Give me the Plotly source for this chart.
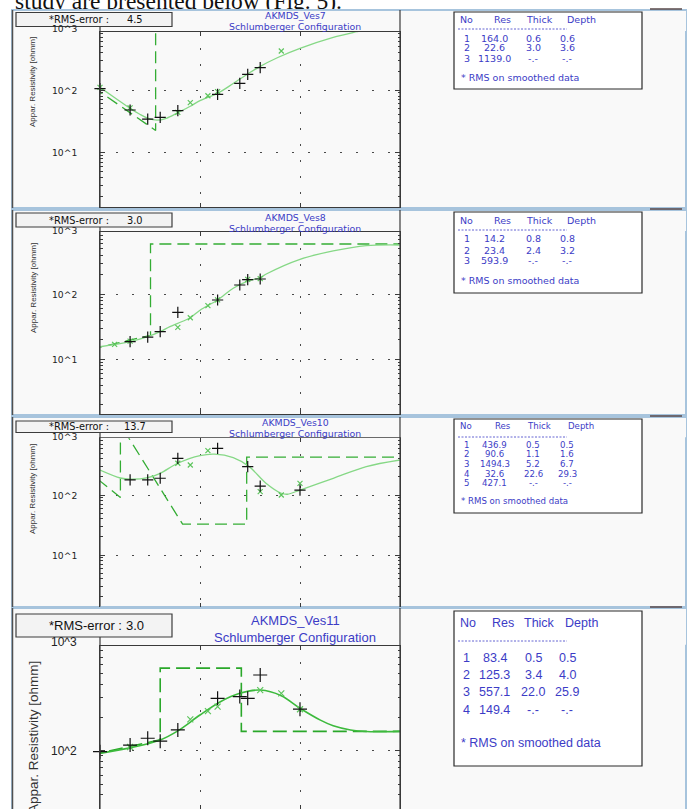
import plotly.graph_objects as go

# ---------------- sounding data: AB/2 [m] vs apparent resistivity [ohm.m] ----------------
# VES 7
ves7_field_ab2 = [1, 2, 3, 4, 6, 15, 25, 30, 40]
ves7_field_rho = [105, 48, 34.4, 36.7, 46.8, 85.4, 128, 178, 227]
ves7_smooth_ab2 = [1, 2, 6, 8, 12, 15, 65]
ves7_smooth_rho = [110, 52, 44, 62.8, 81, 94, 419]
ves7_calc_ab2 = [1, 1.5, 2, 2.5, 3, 3.7, 4.6, 6, 8, 10, 15, 21.5, 30, 38, 60, 100, 215, 370, 600]
ves7_calc_rho = [110, 70, 51, 41, 35.5, 33, 35.4, 43.5, 55, 67.6, 88.5, 127, 180, 228, 330, 462, 692, 850, 1000]
ves7_res = [164.0, 22.6, 1139.0]
ves7_thick = [0.6, 3.0]
ves7_depth = [0.6, 3.6]
ves7_rms = 4.5

# VES 8
ves8_field_ab2 = [2, 3, 4, 6, 15, 25, 30, 40]
ves8_field_rho = [18.7, 22.0, 26.6, 52.9, 81.7, 139, 168, 172]
ves8_smooth_ab2 = [1.4, 2, 6, 8, 12, 15, 30, 40]
ves8_smooth_rho = [17.0, 19.0, 31, 43.6, 66.9, 82, 170, 174]
ves8_calc_ab2 = [1, 2, 3, 4, 5, 6, 8, 10, 15, 21.5, 30, 40, 46, 100, 215, 460, 1000]
ves8_calc_rho = [15.6, 18.7, 22.3, 26.6, 31.8, 35.8, 43.6, 57, 81.7, 124, 160, 180, 205, 345, 464, 560, 573]
ves8_res = [14.2, 23.4, 593.9]
ves8_thick = [0.8, 2.4]
ves8_depth = [0.8, 3.2]
ves8_rms = 3.0

# VES 10
ves10_field_ab2 = [2, 3, 4, 6, 15, 30, 40, 100]
ves10_field_rho = [178, 178, 190, 408, 600, 297, 141, 121]
ves10_smooth_ab2 = [6, 8, 12, 40, 65, 100]
ves10_smooth_rho = [338, 316, 548, 114, 100, 156]
ves10_calc_ab2 = [1, 1.6, 2, 3, 4, 6, 10, 14, 21.5, 31, 46, 65, 75, 100, 215, 460, 1000]
ves10_calc_rho = [261, 192, 183, 194, 230, 338, 453, 480, 419, 297, 156, 107, 103, 121, 190, 297, 383]
ves10_res = [436.9, 90.6, 1494.3, 32.6, 427.1]
ves10_thick = [0.5, 1.1, 5.2, 22.6]
ves10_depth = [0.5, 1.6, 6.7, 29.3]
ves10_rms = 13.7

# VES 11
ves11_field_ab2 = [1, 2, 3, 4, 6, 15, 25, 30, 40, 100]
ves11_field_rho = [98, 112.5, 129.5, 122, 154, 297, 308, 297, 483, 237]
ves11_smooth_ab2 = [2, 8, 12, 15, 40, 65, 100]
ves11_smooth_rho = [108, 192, 228, 250, 353, 330, 237]
ves11_calc_ab2 = [1, 2, 4, 6, 10, 16, 25, 40, 65, 100, 160, 215, 320, 460, 1000]
ves11_calc_rho = [94.6, 106, 125, 151, 210, 277, 330, 353, 314, 242, 189, 168, 154, 149, 149.4]
ves11_res = [83.4, 125.3, 557.1, 149.4]
ves11_thick = [0.5, 3.4, 22.0]
ves11_depth = [0.5, 4.0, 25.9]
ves11_rms = 3.0

# ---------------- page geometry (pixels) ----------------
W, H = 688, 809


def X(p):
    return p / W


def Y(p):
    return 1 - p / H


INK_BLUE = "#3c3cc6"
FRAME_BLUE = "#a7c4dd"
AXIS_GREY = "#3a3a3a"
PANEL_BG = "#f9f9f9"

panels = [
    dict(title="AKMDS_Ves7", rms=ves7_rms,
         field=(ves7_field_ab2, ves7_field_rho), smooth=(ves7_smooth_ab2, ves7_smooth_rho),
         calc=(ves7_calc_ab2, ves7_calc_rho), res=ves7_res, thick=ves7_thick, depth=ves7_depth,
         frame=(10, 208), plot=(32, 207), p100=90.0, dec=62.7, decades=(1, 2, 3),
         rms_box=(12.5, 26.5), titles=(15.5, 26), table=(12, 89), tab_font=9.5,
         head=19, rule=29, rows=(38, 48, 58), note=77, ylab=82, large=False),
    dict(title="AKMDS_Ves8", rms=ves8_rms,
         field=(ves8_field_ab2, ves8_field_rho), smooth=(ves8_smooth_ab2, ves8_smooth_rho),
         calc=(ves8_calc_ab2, ves8_calc_rho), res=ves8_res, thick=ves8_thick, depth=ves8_depth,
         frame=(210, 415), plot=(232, 414), p100=294.3, dec=65.0, decades=(1, 2, 3),
         rms_box=(213, 227), titles=(217.5, 228), table=(212, 293), tab_font=9.5,
         head=220, rule=230, rows=(239, 250, 260), note=280, ylab=288, large=False),
    dict(title="AKMDS_Ves10", rms=ves10_rms,
         field=(ves10_field_ab2, ves10_field_rho), smooth=(ves10_smooth_ab2, ves10_smooth_rho),
         calc=(ves10_calc_ab2, ves10_calc_rho), res=ves10_res, thick=ves10_thick, depth=ves10_depth,
         frame=(417, 607), plot=(438.3, 606.5), p100=495.0, dec=60.0, decades=(1, 2, 3),
         rms_box=(421, 432.5), titles=(422.5, 433), table=(419, 513), tab_font=8.6,
         head=426, rule=437, rows=(445, 454.5, 464, 473.5, 483), note=501, ylab=489, large=False),
    dict(title="AKMDS_Ves11", rms=ves11_rms,
         field=(ves11_field_ab2, ves11_field_rho), smooth=(ves11_smooth_ab2, ves11_smooth_rho),
         calc=(ves11_calc_ab2, ves11_calc_rho), res=ves11_res, thick=ves11_thick, depth=ves11_depth,
         frame=(608, 830), plot=(645.7, 809), p100=750.7, dec=110.7, decades=(2, 3),
         rms_box=(614, 637), titles=(620, 637), table=(611, 766), tab_font=12.5,
         head=623, rule=641, rows=(658, 675, 692, 710), note=743, ylab=737, large=True),
]


def model_path(res, depth, y_lo, y_hi, x_end=1000.0):
    """Stepped layer model (depth, resistivity); corners lying outside the
    plotted window are skipped and their neighbours joined directly, as the
    sounding software draws it."""
    pts = [(depth[0], res[0])]
    for i, d in enumerate(depth):
        pts.append((d, res[i + 1]))
        nxt = depth[i + 1] if i + 1 < len(depth) else x_end
        pts.append((nxt, res[i + 1]))

    def inside(pt):
        return 1.0 <= pt[0] <= 1000.0 and y_lo <= pt[1] <= y_hi

    kept = [pts[0]]
    for k in range(1, len(pts)):
        if inside(pts[k]) or inside(pts[k - 1]):
            kept.append(pts[k])
    return [q[0] for q in kept], [q[1] for q in kept]


def fmt(v):
    return "-.-" if v is None else f"{v:.1f}"


minor_vals = [m * 10 ** n for n in range(0, 4) for m in range(2, 10)]

fig = go.Figure()
shapes, notes, axes = [], [], {}


def text(x, y, s, size, fam, color, xanchor="center", angle=0):
    notes.append(dict(x=X(x), y=Y(y), xref="paper", yref="paper", text=s, showarrow=False,
                      xanchor=xanchor, yanchor="middle", textangle=angle,
                      font=dict(size=size, family=fam, color=color)))


def line(x0, y0, x1, y1, color, width=1, dash="solid", layer="above"):
    shapes.append(dict(type="line", xref="paper", yref="paper", x0=X(x0), y0=Y(y0),
                       x1=X(x1), y1=Y(y1), line=dict(color=color, width=width, dash=dash),
                       layer=layer))


def rect(x0, y0, x1, y1, fill, color, width=1, layer="below"):
    shapes.append(dict(type="rect", xref="paper", yref="paper", x0=X(x0), y0=Y(y1),
                       x1=X(x1), y1=Y(y0), fillcolor=fill,
                       line=dict(color=color, width=width), layer=layer))


# running page text above the figure; drawn on a full-page overlay axis so the
# figure frame (shapes on the upper layer) sits in front of its lower part
fig.add_trace(go.Scatter(x=[15], y=[3.5], xaxis="x5", yaxis="y5", mode="text",
                         text=["study are presented below (Fig. 5)."], textposition="middle right",
                         textfont=dict(size=23.5, family="Liberation Serif, Times New Roman, serif",
                                       color="#111111"),
                         cliponaxis=False, hoverinfo="skip", showlegend=False))
axes["xaxis5"] = dict(domain=[0, 1], range=[0, W], visible=False, fixedrange=True, anchor="y5")
axes["yaxis5"] = dict(domain=[0, 1], range=[H, 0], visible=False, fixedrange=True, anchor="x5")

for k, p in enumerate(panels, start=1):
    sfx = "" if k == 1 else str(k)
    xa, ya = "x" + sfx, "y" + sfx
    top_px, bot_px = p["plot"]
    y_hi = 2 + (p["p100"] - top_px) / p["dec"]
    y_lo = 2 - (bot_px - p["p100"]) / p["dec"]
    f_tab = p["tab_font"]

    if p["large"]:
        fam = "Liberation Sans, Arial, sans-serif"
        f_title, f_rms, f_tick, f_ylab = 13, 13, 12, 13.5
        calc_col, calc_w, model_col, model_w = "#3dba3d", 1.6, "#2aa82a", 1.6
        plus_size, x_size, dash = 10, 6, "14px,6px"
    else:
        fam = "DejaVu Sans, Verdana, sans-serif"
        f_title, f_rms, f_tick, f_ylab = 9.4, 9.8, 9.2, 8
        calc_col, calc_w, model_col, model_w = "#86d886", 1.3, "#34ad34", 1.3
        plus_size, x_size, dash = 8, 5, "12px,6px"

    # ---- traces ----
    mx, my = model_path(p["res"], p["depth"], 10 ** y_lo, 10 ** y_hi)
    fig.add_trace(go.Scatter(x=mx, y=my, xaxis=xa, yaxis=ya, mode="lines",
                             line=dict(color=model_col, width=model_w, dash=dash),
                             hoverinfo="skip", showlegend=False))
    fig.add_trace(go.Scatter(x=p["calc"][0], y=p["calc"][1], xaxis=xa, yaxis=ya, mode="lines",
                             line=dict(color=calc_col, width=calc_w, shape="spline", smoothing=0.9),
                             hoverinfo="skip", showlegend=False))
    fig.add_trace(go.Scatter(x=p["smooth"][0], y=p["smooth"][1], xaxis=xa, yaxis=ya, mode="markers",
                             marker=dict(symbol="x-thin", size=x_size,
                                         line=dict(width=1.2, color="#5cc45c")),
                             cliponaxis=False, hoverinfo="skip", showlegend=False))
    fig.add_trace(go.Scatter(x=p["field"][0], y=p["field"][1], xaxis=xa, yaxis=ya, mode="markers",
                             marker=dict(symbol="cross-thin", size=plus_size,
                                         line=dict(width=1.2, color="#111111")),
                             cliponaxis=False, hoverinfo="skip", showlegend=False))

    # ---- axes ----
    grid = dict(showgrid=True, gridcolor="#4a4a4a", gridwidth=1.4, griddash="2px,14px")
    axes["xaxis" + sfx] = dict(type="log", range=[0, 3], domain=[X(100), X(400)], anchor=ya,
                               tickmode="array", tickvals=[10, 100], showticklabels=False,
                               ticks="inside", ticklen=4, tickcolor=AXIS_GREY,
                               showline=True, linecolor=AXIS_GREY, linewidth=1, mirror="ticks",
                               zeroline=False, fixedrange=True, **grid)
    axes["yaxis" + sfx] = dict(type="log", range=[y_lo, y_hi], domain=[Y(bot_px), Y(top_px)],
                               anchor=xa, tickmode="array", tickvals=[10, 100],
                               showticklabels=False, ticks="inside", ticklen=5,
                               tickcolor=AXIS_GREY,
                               minor=dict(tickmode="array", tickvals=minor_vals, ticks="inside",
                                          ticklen=2.5, tickcolor=AXIS_GREY, showgrid=False),
                               showline=True, linecolor=AXIS_GREY, linewidth=1, mirror="ticks",
                               zeroline=False, fixedrange=True, **grid)

    # ---- panel frame ----
    f_top, f_bot = p["frame"]
    rect(12, f_top, 686, f_bot, PANEL_BG, FRAME_BLUE, width=2)
    # header strip above the plot area, in front of the running page text
    rect(12, f_top, 686, top_px - 1, PANEL_BG, FRAME_BLUE, width=0, layer="above")
    line(12, f_top, 686, f_top, FRAME_BLUE, width=2)
    line(12.5, f_top, 12.5, f_bot, "#505050", width=1.5)
    line(650, f_top - 1, 682, f_top - 1, "#5a4a4a", width=1.5)
    line(400, f_top, 400, min(f_bot, H), AXIS_GREY, width=1.2)
    line(100, p["rms_box"][1], 100, min(bot_px, H), AXIS_GREY, width=1.2)

    # RMS box
    r0, r1 = p["rms_box"]
    rect(16, r0, 172, r1, "#f3f3f3", "#3c3c3c", width=1.2, layer="above")
    text(47, (r0 + r1) / 2, "*RMS-error :", f_rms, fam, "#111111", xanchor="left")
    text(135, (r0 + r1) / 2, f"{p['rms']:.1f}", f_rms, fam, "#111111")

    # title lines
    text(295, p["titles"][0], p["title"], f_title, fam, INK_BLUE)
    text(295, p["titles"][1], "Schlumberger Configuration", f_title, fam, INK_BLUE)

    # decade labels
    for n in p["decades"]:
        ypx = p["p100"] - (n - 2) * p["dec"] + (1.5 if n == 3 else 0)
        text(79, ypx, f"10^{n}", f_tick, fam, "#222222", xanchor="right")

    # y axis title
    text(33, p["ylab"], "Appar. Resistivity [ohmm]", f_ylab,
         "Liberation Sans, Arial, sans-serif", "#333333", angle=-90)

    # layer table
    t0, t1 = p["table"]
    rect(454, t0, 642, t1, "#ffffff", "#2a2a2a", width=1.2, layer="above")
    text(458, p["head"], "No", f_tab, fam, INK_BLUE, xanchor="left")
    text(502.5, p["head"], "Res", f_tab, fam, INK_BLUE)
    text(539, p["head"], "Thick", f_tab, fam, INK_BLUE)
    text(581, p["head"], "Depth", f_tab, fam, INK_BLUE)
    line(458, p["rule"], 567, p["rule"], INK_BLUE, width=0.8, dash="2px,1.5px")
    thick = list(p["thick"]) + [None]
    depth = list(p["depth"]) + [None]
    for i, ypx in enumerate(p["rows"]):
        text(466.5, ypx, str(i + 1), f_tab, fam, INK_BLUE)
        text(495, ypx, fmt(p["res"][i]), f_tab, fam, INK_BLUE)
        text(533, ypx, fmt(thick[i]), f_tab, fam, INK_BLUE)
        text(567, ypx, fmt(depth[i]), f_tab, fam, INK_BLUE)
    text(459, p["note"], "* RMS on smoothed data", f_tab, fam, INK_BLUE, xanchor="left")

fig.update_layout(width=W, height=H, margin=dict(l=0, r=0, t=0, b=0),
                  paper_bgcolor="white", plot_bgcolor="rgba(0,0,0,0)", showlegend=False,
                  shapes=shapes, annotations=notes, **axes)

fig.write_html("out.html")
